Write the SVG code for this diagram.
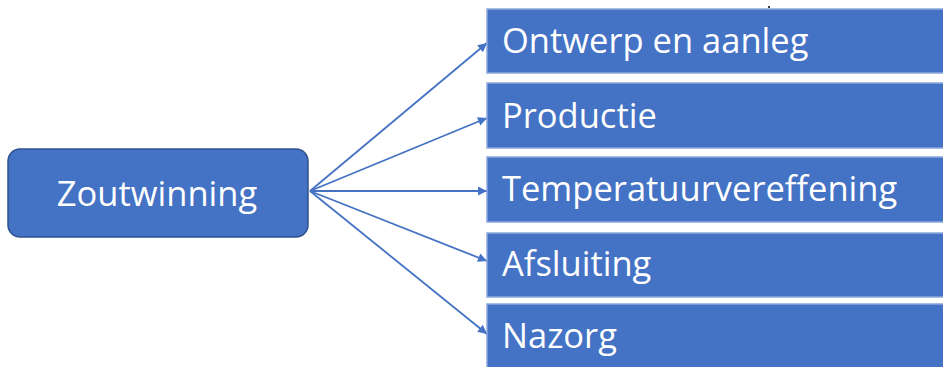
<svg xmlns="http://www.w3.org/2000/svg" width="943" height="367" viewBox="0 0 943 367">
<style>
.box{fill:#4472C4;stroke:#8CA8DD;stroke-width:1.5}
.root{fill:#4472C4;stroke:#2F528F;stroke-width:1.5}
.t{font-family:"Open Sans","Liberation Sans",sans-serif;fill:#FFFFFF;font-size:34.5px}
.c{stroke:#4472C4;stroke-width:1.8;fill:none;marker-end:url(#ah)}
</style>
<defs>
<marker id="ah" viewBox="0 0 10 10" refX="10" refY="5" markerWidth="10" markerHeight="9" markerUnits="userSpaceOnUse" orient="auto">
<path d="M0,0 L10,5 L0,10 z" fill="#4472C4"/>
</marker>
</defs>
<rect width="943" height="367" fill="#FFFFFF"/>
<g id="connectors">
<line class="c" x1="310" y1="191" x2="487" y2="43"/>
<line class="c" x1="310" y1="191" x2="487" y2="118"/>
<line class="c" x1="310" y1="191" x2="487" y2="191"/>
<line class="c" x1="310" y1="191" x2="487" y2="261"/>
<line class="c" x1="310" y1="191" x2="487" y2="334"/>
</g>
<g id="zoutwinning">
<rect class="root" x="8" y="149" width="300" height="88" rx="12"/>
<text class="t" x="157" y="206" text-anchor="middle">Zoutwinning</text>
</g>
<g id="ontwerp">
<rect class="box" x="487" y="9" width="460" height="64"/>
<text class="t" x="502" y="53">Ontwerp en aanleg</text>
</g>
<g id="productie">
<rect class="box" x="487" y="83" width="460" height="65"/>
<text class="t" x="502" y="128">Productie</text>
</g>
<g id="temperatuur">
<rect class="box" x="487" y="157" width="460" height="65"/>
<text class="t" x="502" y="201">Temperatuurvereffening</text>
</g>
<g id="afsluiting">
<rect class="box" x="487" y="233" width="460" height="64"/>
<text class="t" x="502" y="276">Afsluiting</text>
</g>
<g id="nazorg">
<rect class="box" x="487" y="304" width="460" height="70"/>
<text class="t" x="502" y="348">Nazorg</text>
</g>
<circle cx="769" cy="7" r="1" fill="#000000"/>
</svg>
